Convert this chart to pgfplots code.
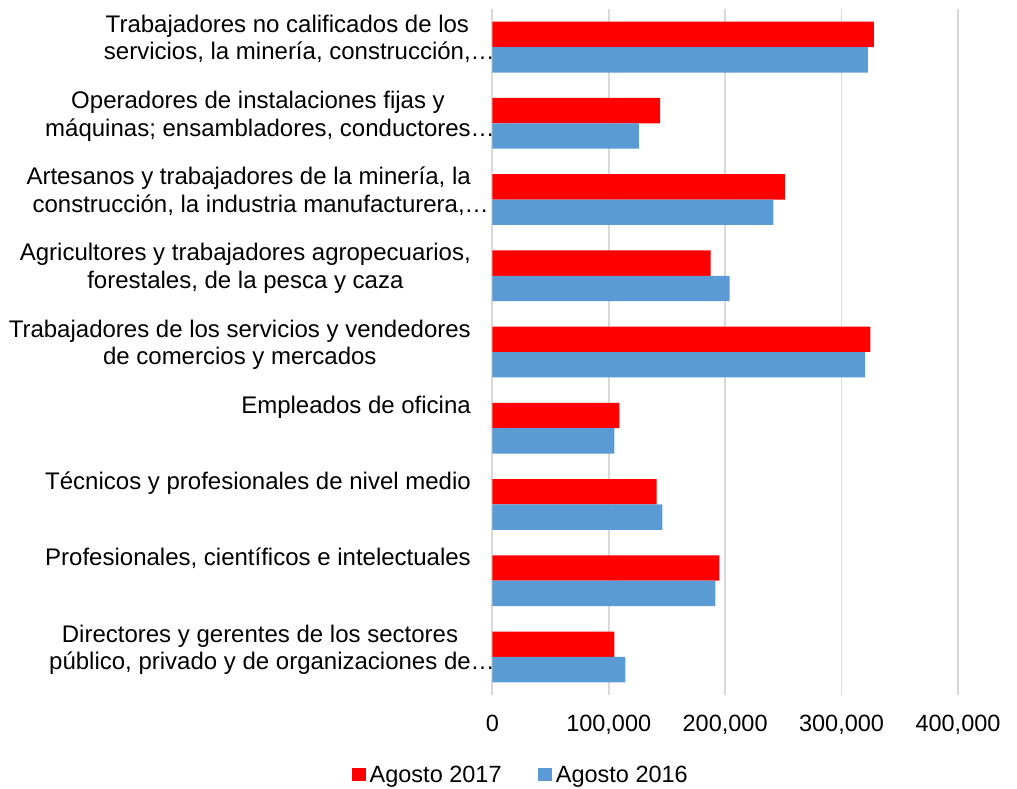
\documentclass[border=0pt]{standalone}
\usepackage{pgfplots}
\pgfplotsset{compat=1.18}
\usepackage{fontspec}
\setmainfont{Liberation Sans}
\definecolor{rojo}{HTML}{FF0000}
\definecolor{azul}{HTML}{5B9BD5}
\definecolor{gridc}{HTML}{D9D9D9}
\begin{document}
\begin{tikzpicture}[font=\fontsize{23.5}{27}\selectfont]
\path[use as bounding box] (0,0) rectangle (1017pt,788pt);
\begin{axis}[
  at={(492.3pt,93pt)}, anchor=south west,
  scale only axis, width=465.7pt, height=686pt,
  xbar, bar width=0.333,
  xmin=0, xmax=400000, ymin=-0.5, ymax=8.5, y dir=reverse,
  xtick={0,100000,200000,300000,400000},
  scaled x ticks=false,
  /pgf/number format/fixed,
  /pgf/number format/1000 sep={,},
  /pgf/number format/assume math mode=true,
  xticklabel style={anchor=north, inner sep=0pt, yshift=-20pt},
  ytick={0,...,8},
  yticklabels={
    {\strut Trabajadores no calificados de los\\servicios, la minería, construcción,\rlap{…}},
    {\strut Operadores de instalaciones fijas y\\máquinas; ensambladores, conductores\rlap{…}},
    {\strut Artesanos y trabajadores de la minería, la\\construcción, la industria manufacturera,\rlap{…}},
    {\strut Agricultores y trabajadores agropecuarios,\\forestales, de la pesca y caza},
    {\strut Trabajadores de los servicios y vendedores\\de comercios y mercados},
    {\strut Empleados de oficina},
    {\strut Técnicos y profesionales de nivel medio},
    {\strut Profesionales, científicos e intelectuales},
    {\strut Directores y gerentes de los sectores\\público, privado y de organizaciones de\rlap{…}}
  },
  yticklabel style={font=\fontsize{24}{27.5}\selectfont, anchor=north east, align=center,
    inner sep=0pt, xshift=-21.3pt, yshift=34.25pt},
  major tick length=0pt,
  axis line style={draw=none},
  xmajorgrids,
  grid style={gridc, line width=1.7pt},
  legend columns=2,
  legend image code/.code={\fill[#1] (0pt,-6.5pt) rectangle (13.5pt,7pt);},
  legend style={at={(0.0595,-0.1166)}, anchor=center, draw=none, fill=none,
    inner sep=0pt, nodes={inner sep=0pt},
    /tikz/every odd column/.append style={column sep=4pt},
    /tikz/every even column/.append style={column sep=36.7pt}},
]
\addplot[fill=rojo, draw=none, bar shift=-0.1667] coordinates {
  (327700,0) (144100,1) (251200,2) (187600,3) (324800,4)
  (109100,5) (141200,6) (195000,7) (104800,8)};
\addplot[fill=azul, draw=none, bar shift=0.1667] coordinates {
  (322500,0) (125800,1) (241400,2) (203900,3) (320200,4)
  (104800,5) (146000,6) (191600,7) (114300,8)};
\legend{Agosto 2017, Agosto 2016}
\end{axis}
\end{tikzpicture}
\end{document}
